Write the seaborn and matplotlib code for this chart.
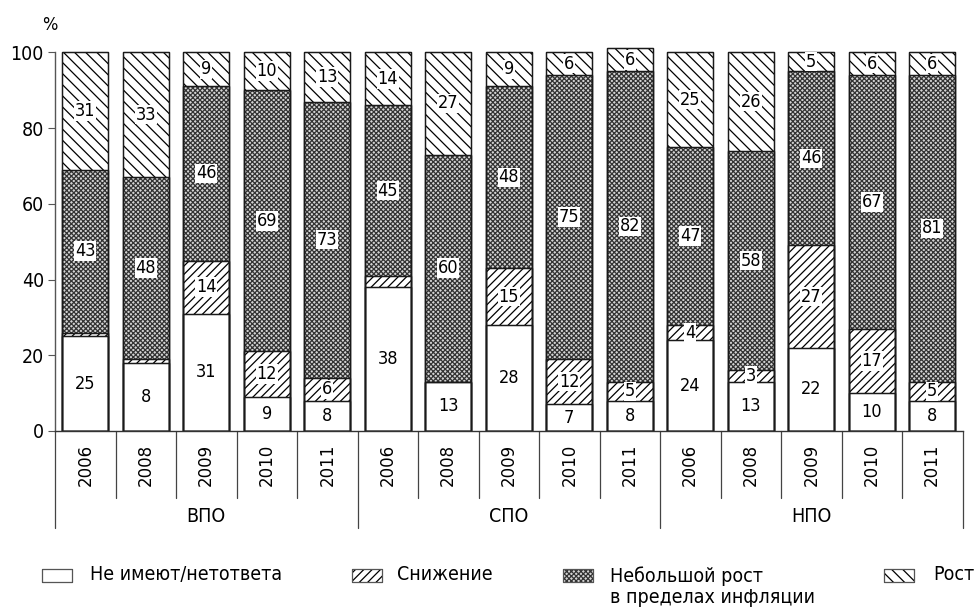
import matplotlib
matplotlib.use("Agg")
import matplotlib.pyplot as plt
import matplotlib.transforms as mtransforms
from matplotlib.patches import Rectangle
from matplotlib.lines import Line2D
from matplotlib import font_manager
import seaborn as sns
import pandas as pd

# ---------------- data ----------------
groups = ["ВПО", "СПО", "НПО"]
years = ["2006", "2008", "2009", "2010", "2011"]

none_vals = [25, 18, 31, 9, 8, 38, 13, 28, 7, 8, 24, 13, 22, 10, 8]
none_labels = ["25", "8", "31", "9", "8", "38", "13", "28", "7", "8", "24", "13", "22", "10", "8"]
decline_vals = [1, 1, 14, 12, 6, 3, 0, 15, 12, 5, 4, 3, 27, 17, 5]
decline_labels = ["", "", "14", "12", "6", "", "", "15", "12", "5", "4", "3", "27", "17", "5"]
small_vals = [43, 48, 46, 69, 73, 45, 60, 48, 75, 82, 47, 58, 46, 67, 81]
growth_vals = [31, 33, 9, 10, 13, 14, 27, 9, 6, 6, 25, 26, 5, 6, 6]

series_names = ["Не имеют/нетответа", "Снижение", "Небольшой рост\nв пределах инфляции", "Рост"]
y_ticks = [0, 20, 40, 60, 80, 100]

# ---------------- style ----------------
sns.set_theme(style="white")
plt.rcParams["font.family"] = ["DejaVu Sans"]
plt.rcParams["font.stretch"] = "condensed"
for k in ["text.color", "axes.labelcolor", "xtick.color", "ytick.color"]:
    plt.rcParams[k] = "black"
plt.rcParams["hatch.linewidth"] = 0.9

has_cond = any(f.name == "DejaVu Sans" and f.stretch == "condensed"
               for f in font_manager.fontManager.ttflist)
STRETCH = "condensed" if has_cond else "normal"

cats = [f"{g} {y}" for g in groups for y in years]
df = pd.DataFrame({
    "cat": cats,
    "none": none_vals,
    "decline": decline_vals,
    "small": small_vals,
    "growth": growth_vals,
})
df["c1"] = df["none"]
df["c2"] = df["c1"] + df["decline"]
df["c3"] = df["c2"] + df["small"]
df["c4"] = df["c3"] + df["growth"]

W, H = 975, 613
fig = plt.figure(figsize=(W / 100, H / 100), dpi=100)
ax = fig.add_axes([55 / W, 1 - 431 / H, (962.5 - 55) / W, (431 - 46.6) / H])

BW = 0.76
H_GROW = "\\\\\\"
H_SMALL = "xxxxxxx"
H_DECL = "////"
FC_SMALL = "#d4d4d4"
layers = [
    ("c4", H_GROW, "black", "white"),
    ("c3", H_SMALL, "#333333", FC_SMALL),
    ("c2", H_DECL, "black", "white"),
    ("c1", None, "black", "white"),
]
for col, hatch, hc, fc in layers:
    n0 = len(ax.patches)
    sns.barplot(data=df, x="cat", y=col, order=cats, color="white", width=BW,
                edgecolor=hc, linewidth=0.8, ax=ax, errorbar=None, saturation=1)
    for p in ax.patches[n0:]:
        p.set_facecolor(fc)
        p.set_edgecolor(hc)
        if hatch:
            p.set_hatch(hatch)

# outline pass so all segment borders are dark
for col in ["c4", "c3", "c2", "c1"]:
    n0 = len(ax.patches)
    sns.barplot(data=df, x="cat", y=col, order=cats, width=BW, fill=False,
                color="black", linewidth=1.0, ax=ax, errorbar=None)
    for p in ax.patches[n0:]:
        p.set_edgecolor("#1a1a1a")
        p.set_facecolor("none")

# ---------------- labels in bars ----------------
FS = 13
bbox = dict(boxstyle="square,pad=0.04", fc="white", ec="none")
kw = dict(ha="center", va="center", fontsize=FS, fontstretch=STRETCH)
for i in range(len(cats)):
    r = df.iloc[i]
    ax.text(i, r["c1"] / 2, none_labels[i], **kw)
    if decline_labels[i]:
        ax.text(i, (r["c1"] + r["c2"]) / 2, decline_labels[i], bbox=bbox, **kw)
    ax.text(i, (r["c2"] + r["c3"]) / 2, str(small_vals[i]), bbox=bbox, **kw)
    ax.text(i, (r["c3"] + r["c4"]) / 2, str(growth_vals[i]), bbox=bbox, **kw)

# ---------------- axes ----------------
ax.set_xlim(-0.5, len(cats) - 0.5)
ax.set_ylim(0, 101.5)
ax.set_yticks(y_ticks)
ax.set_yticklabels([str(t) for t in y_ticks], fontsize=14, fontstretch=STRETCH)
ax.set_xlabel("")
ax.set_ylabel("")
for s in ["top", "right"]:
    ax.spines[s].set_visible(False)
ax.spines["left"].set_bounds(0, 100)
ax.spines["left"].set_color("#555555")
ax.spines["bottom"].set_color("#333333")
ax.spines["left"].set_linewidth(1.0)
ax.spines["bottom"].set_linewidth(1.0)
ax.tick_params(axis="y", length=5, width=0.8, color="#555555", pad=3, left=True)
ax.set_xticks(range(len(cats)))
ax.set_xticklabels(years * len(groups), rotation=90, fontsize=12,
                   fontfamily="DejaVu Sans", fontstretch="normal")
ax.tick_params(axis="x", length=0, pad=9)

fig.text(50 / W, 1 - 25 / H, "%", ha="center", va="center", fontsize=13,
         fontstretch=STRETCH)

# separators under the axis
trans = mtransforms.blended_transform_factory(ax.transData, fig.transFigure)
y_axis = 1 - 431 / H
y_short = 1 - 498 / H
y_long = 1 - 528 / H
for k in range(len(cats) + 1):
    xk = k - 0.5
    y_end = y_long if k % len(years) == 0 else y_short
    ax.add_line(Line2D([xk, xk], [y_axis, y_end], transform=trans, color="#444444",
                       linewidth=0.9, clip_on=False))
for gi, g in enumerate(groups):
    xc = gi * len(years) + (len(years) - 1) / 2
    ax.text(xc, 1 - 516 / H, g, transform=trans, ha="center", va="center",
            fontsize=14, fontstretch=STRETCH)

# ---------------- legend ----------------
leg_items = [
    (42, 90, None, "black", "white"),
    (352, 397, H_DECL, "black", "white"),
    (563, 610, H_SMALL, "#333333", FC_SMALL),
    (884, 933, H_GROW, "black", "white"),
]
py = 1 - 582 / H
for (px, tx, hatch, hc, fc), name in zip(leg_items, series_names):
    rect = Rectangle((px / W, py), 30 / W, 13 / H, transform=fig.transFigure,
                     facecolor=fc, edgecolor=hc, hatch=hatch, linewidth=0.8)
    fig.add_artist(rect)
    outline = Rectangle((px / W, py), 30 / W, 13 / H, transform=fig.transFigure,
                        facecolor="none", edgecolor="#555555", linewidth=0.8)
    fig.add_artist(outline)
    if "\n" in name:
        fig.text(tx / W, 1 - 566 / H, name, ha="left", va="top", fontsize=14,
                 linespacing=1.15, fontstretch=STRETCH)
    else:
        fig.text(tx / W, 1 - 575 / H, name, ha="left", va="center", fontsize=14,
                 fontstretch=STRETCH)

fig.savefig("out.png", dpi=100)
